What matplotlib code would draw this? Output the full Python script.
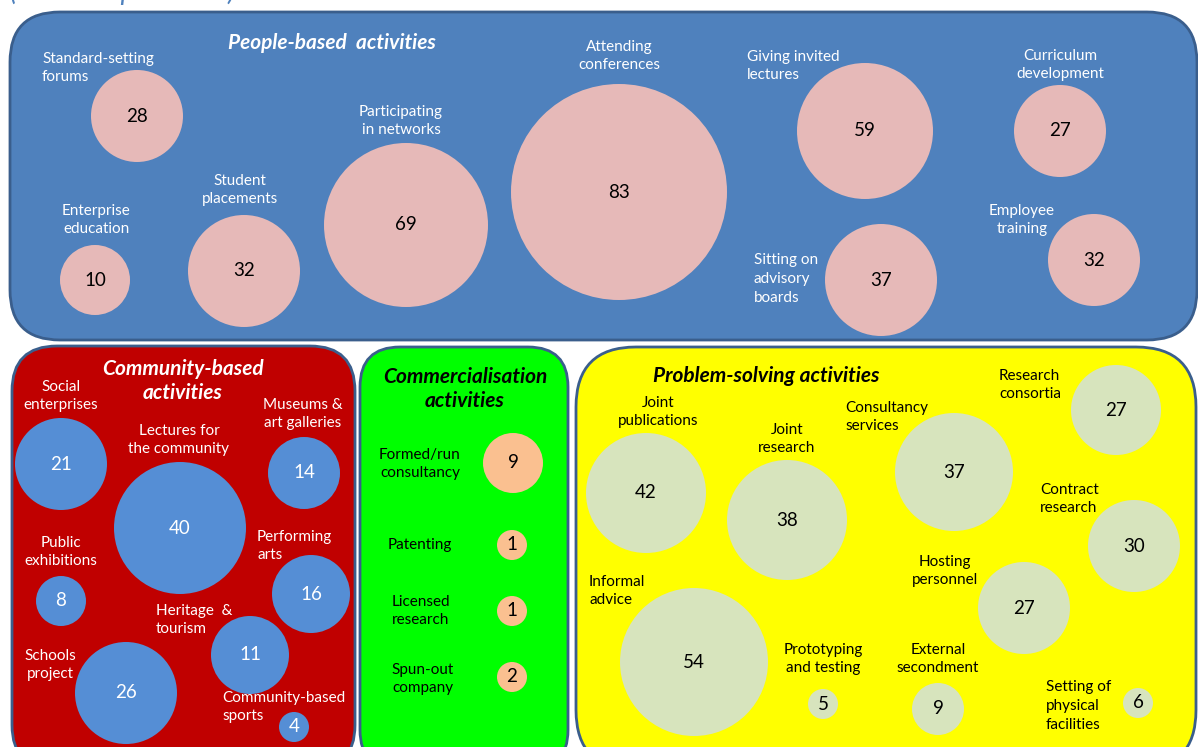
import matplotlib.pyplot as plt
from matplotlib.patches import Circle, FancyBboxPatch

plt.rcParams['font.family'] = ['Lato', 'DejaVu Sans']

# --- data: activity names and counts of respondents ---
people_names = ['Standard-setting\nforums', 'Enterprise\neducation', 'Student\nplacements',
                'Participating\nin networks', 'Attending\nconferences', 'Giving invited\nlectures',
                'Sitting on\nadvisory\nboards', 'Curriculum\ndevelopment', 'Employee\ntraining']
people_vals = [28, 10, 32, 69, 83, 59, 37, 27, 32]

community_names = ['Social\nenterprises', 'Lectures for\nthe community', 'Museums &\nart galleries',
                   'Public\nexhibitions', 'Performing\narts', 'Heritage  &\ntourism',
                   'Schools\nproject', 'Community-based\nsports']
community_vals = [21, 40, 14, 8, 16, 11, 26, 4]

commercial_names = ['Formed/run\nconsultancy', 'Patenting', 'Licensed\nresearch', 'Spun-out\ncompany']
commercial_vals = [9, 1, 1, 2]

problem_names = ['Joint\npublications', 'Joint\nresearch', 'Consultancy\nservices',
                 'Research\nconsortia', 'Contract\nresearch', 'Hosting\npersonnel',
                 'Informal\nadvice', 'Prototyping\nand testing', 'External\nsecondment',
                 'Setting of\nphysical\nfacilities']
problem_vals = [42, 38, 37, 27, 30, 27, 54, 5, 9, 6]

# --- layout (pixels, y from top) ---
people_bx = [137, 95, 244, 406, 619, 865, 881, 1060, 1094]
people_by = [116, 280, 271, 225, 192, 131, 280, 131, 260]
people_r = [46, 35, 56, 82, 108, 68, 56, 46, 46]
people_lx = [42, 96, 240, 401, 619, 747, 754, 1060, 1022]
people_ly = [68, 220, 190, 121, 56, 66, 279, 65, 220]
people_ha = ['left', 'center', 'center', 'center', 'center', 'left', 'left', 'center', 'center']

comm_bx = [61, 180, 304, 61, 311, 250, 126, 294]
comm_by = [464, 528, 473, 601, 594, 655, 693, 727]
comm_r = [46, 66, 36, 25, 39, 39, 51, 15]
comm_lx = [61, 179, 303, 61, 257, 156, 50, 222]
comm_ly = [396, 440, 414, 552, 546, 620, 665, 707]
comm_ha = ['center', 'center', 'center', 'center', 'left', 'left', 'center', 'left']

com_bx = [513, 512, 512, 512]
com_by = [463, 545, 611, 677]
com_r = [30, 15, 15, 15]
com_lx = [420, 420, 421, 423]
com_ly = [464, 545, 611, 679]
com_ha = ['center'] * 4

prob_bx = [646, 787, 954, 1116, 1134, 1024, 694, 823, 938, 1138]
prob_by = [493, 520, 472, 410, 546, 608, 662, 704, 709, 703]
prob_r = [60, 60, 59, 45, 46, 46, 74, 15, 26, 15]
prob_lx = [658, 787, 845, 999, 1040, 945, 589, 823, 938, 1046]
prob_ly = [412, 439, 417, 385, 499, 571, 591, 659, 659, 706]
prob_ha = ['center', 'center', 'left', 'left', 'left', 'center', 'left', 'center', 'center', 'left']

W, H = 1198, 747
fig = plt.figure(figsize=(W / 100, H / 100), dpi=100)
ax = fig.add_axes([0, 0, 1, 1])
ax.set_xlim(0, W)
ax.set_ylim(H, 0)
ax.set_aspect('equal')
ax.axis('off')

edge = '#3A5E8C'


def panel(x0, y0, x1, y1, rad, color):
    box = FancyBboxPatch((x0, y0), x1 - x0, y1 - y0,
                         boxstyle='round,pad=0,rounding_size=%d' % rad,
                         facecolor=color, edgecolor=edge, linewidth=2)
    ax.add_patch(box)


def bubbles(names, vals, bx, by, br, lx, ly, ha, bcol, ncol, tcol):
    for i in range(len(vals)):
        ax.add_patch(Circle((bx[i], by[i]), br[i], facecolor=bcol, edgecolor='none'))
        ax.text(bx[i], by[i], str(vals[i]), ha='center', va='center',
                fontsize=13.5, color=ncol)
        ax.text(lx[i], ly[i], names[i], ha=ha[i], va='center', multialignment=ha[i],
                fontsize=11, color=tcol, linespacing=1.45)


# subtitle, mostly cut off by the top edge as in the source image
ax.text(10, -9, '(n=83 respondents)', ha='left', va='center', fontsize=20,
        style='italic', color='#4F81BD')

panel(10, 12, 1197, 340, 50, '#4F81BD')
panel(12, 346, 355, 770, 45, '#C00000')
panel(360, 347, 568, 770, 40, '#00FF00')
panel(576, 347, 1196, 770, 60, '#FFFF00')

bubbles(people_names, people_vals, people_bx, people_by, people_r,
        people_lx, people_ly, people_ha, '#E6B9B8', 'black', 'white')
bubbles(community_names, community_vals, comm_bx, comm_by, comm_r,
        comm_lx, comm_ly, comm_ha, '#558ED5', 'white', 'white')
bubbles(commercial_names, commercial_vals, com_bx, com_by, com_r,
        com_lx, com_ly, com_ha, '#FAC090', 'black', 'black')
bubbles(problem_names, problem_vals, prob_bx, prob_by, prob_r,
        prob_lx, prob_ly, prob_ha, '#D7E4BD', 'black', 'black')

title_kw = dict(ha='center', va='center', fontsize=15, fontweight='bold',
                style='italic', linespacing=1.3)
ax.text(332, 43, 'People-based  activities', color='white', **title_kw)
ax.text(183, 381, 'Community-based\nactivities', color='white', **title_kw)
ax.text(465, 389, 'Commercialisation\nactivities', color='black', **title_kw)
ax.text(766, 376, 'Problem-solving activities', color='black', **title_kw)

fig.savefig('out.png', dpi=100)
